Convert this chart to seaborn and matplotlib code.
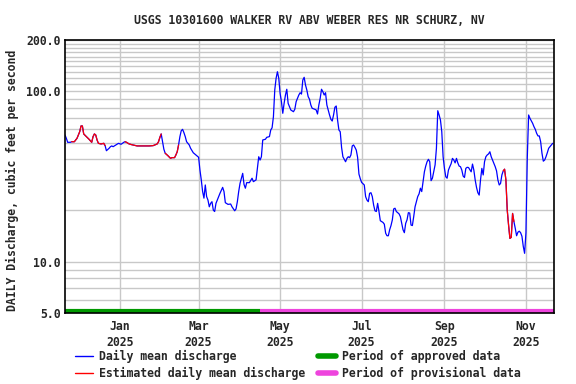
import pandas as pd
import matplotlib
matplotlib.use("Agg")
import matplotlib.pyplot as plt
import matplotlib.dates as mdates
from matplotlib.lines import Line2D
from matplotlib.ticker import FixedLocator, FixedFormatter, NullFormatter
import seaborn as sns

# Daily mean discharge (day 0 = 2024-11-21)
start = pd.Timestamp("2024-11-21")
day = [
    0, 1, 2, 3, 4, 5, 7, 9, 11, 12, 13, 14, 16, 18, 20, 21, 22, 23, 24, 25,
    27, 29, 30, 31, 33, 34, 35, 36, 38, 40, 42, 43, 44, 45,
    46, 48, 50, 54, 58, 63, 66, 69, 70, 71, 72, 73, 74, 75, 76, 77,
    79, 80, 82, 83, 84, 85, 86, 87, 88, 89, 90, 91, 93,
    94, 96, 98, 100, 101, 102, 103, 104, 105, 106,
    107, 108, 109, 110, 111, 112, 113, 115, 116, 118,
    119, 120, 122, 124, 125, 127, 128, 129, 130, 131,
    133, 134, 135, 136, 138, 140, 141, 143, 144, 145,
    146, 147, 148, 150, 151, 153, 154, 155, 156, 157,
    158, 159, 160, 161, 162, 163, 164, 165, 166, 167,
    168, 169, 171, 172, 173, 175, 176, 177, 178, 179,
    180, 181, 182,
    183, 184, 185, 187, 188, 189, 190, 191, 192, 193,
    194, 195, 196, 197, 198, 199, 200, 201, 202, 203,
    204, 205, 206, 207, 208, 209, 210, 211, 212, 213,
    214, 215, 216, 217, 218, 219, 220, 221, 222, 224,
    225, 226, 227, 228, 229, 230, 231, 232, 233, 234,
    235, 236, 238, 239, 240, 241, 242, 243, 244, 245,
    246, 247, 248, 250, 251, 252, 253, 254, 255, 256,
    257, 258, 259, 260, 261, 262, 263, 264, 265, 266,
    267, 268, 269, 270, 271, 272, 273, 274, 275, 276,
    277, 278, 279, 280, 281, 282, 283, 284, 285, 286,
    287, 288, 289, 290, 291, 292, 293, 294, 295, 296,
    297, 298, 299, 300, 301, 302, 304, 305, 306, 307,
    308, 309, 310, 311, 312, 313, 314, 315, 316, 317,
    318, 319, 320, 321, 322, 323, 324, 325, 326, 327,
    328, 329, 330, 331, 332, 333, 334, 335, 336, 337,
    338, 339, 340, 341, 342, 343, 344, 345, 346, 347,
    348, 349, 350, 351, 352, 353, 354, 355, 356, 357,
    358, 359, 360, 361, 362, 363, 364, 365,
]
cfs = [
    55.4, 53.0, 50.2, 50.2, 50.2, 50.6, 50.6, 53.0, 57.9, 62.6, 62.6, 56.2, 54.2, 52.3, 50.2, 54.2, 56.2, 55.4, 51.8, 49.5,
    49.1, 49.5, 48.0, 44.8, 46.3, 47.3, 47.8, 47.3, 48.4, 49.5, 48.9, 49.5, 50.2, 50.6,
    50.2, 49.1, 48.6, 47.8, 47.8, 47.8, 48.0, 49.1, 50.6, 53.6, 56.2, 50.6, 45.7, 43.3, 42.6, 41.9,
    40.4, 40.8, 40.8, 42.3, 44.2, 48.4, 54.2, 58.7, 59.8, 57.2, 54.2, 50.6, 48.4,
    46.3, 43.6, 42.3, 41.0, 34.5, 30.2, 25.8, 23.6, 28.2, 24.1,
    23.0, 21.0, 22.0, 22.5, 20.1, 19.7, 22.0, 24.1, 25.2, 27.3,
    25.8, 22.2, 21.7, 21.8, 21.0, 19.9, 20.4, 22.5, 25.8, 28.8,
    33.0, 28.4, 27.0, 29.1, 29.1, 30.9, 29.5, 30.2, 35.3, 41.3,
    39.5, 41.3, 51.8, 52.3, 53.7, 54.2, 59.3, 61.1, 71.0, 101.8,
    119.2, 130.3, 119.2, 97.3, 86.9, 74.3, 85.0, 95.1, 102.8, 85.0,
    81.2, 77.7, 75.9, 78.4, 86.9, 95.1, 98.1, 96.3, 116.5, 120.8,
    108.9, 101.8, 93.0,
    89.8, 83.1, 79.5, 78.4, 77.7, 73.6, 83.1, 91.0, 102.8, 99.5,
    95.1, 98.1, 83.1, 77.7, 72.6, 68.5, 66.9, 72.6, 80.6, 82.0,
    67.9, 59.3, 57.9, 46.9, 41.3, 39.9, 38.6, 40.4, 41.3, 40.8,
    42.3, 47.8, 48.4, 46.9, 45.2, 41.0, 32.7, 30.7, 29.2, 28.2,
    24.1, 23.0, 22.5, 25.2, 25.4, 24.1, 21.5, 19.9, 19.7, 22.0,
    19.7, 17.4, 17.0, 16.6, 14.7, 14.2, 14.2, 15.4, 16.3, 17.6,
    20.4, 20.6, 19.7, 19.1, 18.4, 16.8, 15.4, 14.8, 16.8, 17.6,
    19.4, 19.3, 16.4, 16.3, 18.4, 21.0, 22.5, 24.1, 25.0, 27.0,
    25.8, 29.5, 33.7, 36.4, 38.6, 39.9, 38.6, 29.9, 30.9, 33.7,
    37.0, 46.3, 76.9, 72.6, 67.9, 57.9, 41.3, 35.3, 31.5, 30.9,
    34.5, 36.1, 37.6, 40.4, 39.5, 38.0, 40.4, 38.0, 36.4, 36.1,
    34.5, 31.8, 31.2, 35.3, 35.8, 35.7, 33.7, 37.4, 34.5, 30.2,
    27.3, 25.4, 24.6, 30.2, 35.3, 32.3, 38.6, 41.3, 42.3, 42.9,
    44.2, 41.3, 39.5, 37.9, 36.1, 34.1, 30.2, 28.2, 28.8, 32.3,
    34.1, 34.9, 30.2, 20.1, 16.4, 13.7, 13.9, 19.2, 17.2, 15.7,
    14.2, 14.9, 15.1, 14.8, 14.1, 12.3, 11.2, 14.8, 40.5, 72.6,
    69.4, 67.2, 64.9, 62.0, 59.8, 56.7, 54.7, 54.7, 50.6, 43.3,
    38.9, 39.5, 41.3, 43.6, 46.3, 47.3, 48.4, 49.5,
]
# day ranges flagged as estimated (drawn red)
estimated = [(5, 30), (45, 72), (75, 85), (328, 336)]
approved_end = pd.Timestamp("2025-04-16")
end = start + pd.Timedelta(days=366)

tick_dates = pd.to_datetime(["2025-01-01", "2025-03-01", "2025-05-01",
                             "2025-07-01", "2025-09-01", "2025-11-01"])
y_major = [5, 10, 100, 200]
y_minor = [6, 7, 8, 9, 20, 30, 40, 50, 60, 70, 80, 90,
           110, 120, 130, 140, 150, 160, 170, 180, 190]

title = "USGS 10301600 WALKER RV ABV WEBER RES NR SCHURZ, NV"

df = pd.DataFrame({"day": day, "cfs": cfs})
df["date"] = start + pd.to_timedelta(df["day"], unit="D")

sns.set_style("white")
plt.rcParams["font.family"] = ["DejaVu Sans Mono"]
plt.rcParams["font.weight"] = "bold"
FS = 8.3
GREEN = "#009900"
MAGENTA = "#ee44dd"

fig = plt.figure(figsize=(5.76, 3.84), dpi=100)
ax = fig.add_axes([65 / 576, 1 - 313 / 384, 489 / 576, 273 / 384])

sns.lineplot(data=df, x="date", y="cfs", color="#0000ff", lw=0.9, ax=ax)
for a, b in estimated:
    seg = df[(df["day"] >= a) & (df["day"] <= b)]
    sns.lineplot(data=seg, x="date", y="cfs", color="#ff0000", lw=0.9, ax=ax)

ax.set_yscale("log")
ax.set_ylim(5, 200)
ax.set_xlim(start, end)

ax.yaxis.set_major_locator(FixedLocator(y_major))
ax.yaxis.set_major_formatter(FixedFormatter([f"{v:.1f}" for v in y_major]))
ax.yaxis.set_minor_locator(FixedLocator(y_minor))
ax.yaxis.set_minor_formatter(NullFormatter())
ax.xaxis.set_major_locator(FixedLocator(mdates.date2num(tick_dates)))
ax.xaxis.set_major_formatter(FixedFormatter([f"{d:%b}\n{d:%Y}" for d in tick_dates]))
ax.xaxis.set_minor_locator(FixedLocator([]))

ax.grid(True, which="both", axis="y", color="#c8c8c8", lw=1)
ax.grid(True, which="major", axis="x", color="#c8c8c8", lw=1)
ax.set_axisbelow(True)
ax.tick_params(axis="both", which="both", length=0, labelsize=FS)
ax.tick_params(axis="x", pad=5)
ax.tick_params(axis="y", pad=3)
for lbl in ax.get_xticklabels():
    lbl.set_linespacing(1.3)
for s in ax.spines.values():
    s.set_color("black")
    s.set_linewidth(1.2)
ax.set_xlabel("")
ax.set_ylabel("")

# approval status bar along the bottom
bar_y = 0.008
ax.plot(mdates.date2num([start, approved_end]), [bar_y, bar_y], color=GREEN, lw=3,
        solid_capstyle="butt", transform=ax.get_xaxis_transform(), clip_on=False)
ax.plot(mdates.date2num([approved_end, end]), [bar_y, bar_y], color=MAGENTA, lw=3,
        solid_capstyle="butt", transform=ax.get_xaxis_transform(), clip_on=False)

fig.text(309.5 / 576, 1 - 20 / 384, title, ha="center", va="center", fontsize=FS)
fig.text(12 / 576, 1 - 180 / 384, "DAILY Discharge, cubic feet per second",
         rotation=90, ha="center", va="center", fontsize=FS)

handles = [Line2D([], [], color="#0000ff", lw=1),
           Line2D([], [], color="#ff0000", lw=1),
           Line2D([], [], color=GREEN, lw=4),
           Line2D([], [], color=MAGENTA, lw=4)]
labels = ["Daily mean discharge", "Estimated daily mean discharge",
          "Period of approved data", "Period of provisional data"]
fig.legend(handles, labels, ncol=2, loc="upper left", bbox_to_anchor=(75 / 576, 1 - 350 / 384),
           frameon=False, fontsize=FS, handlelength=1.6, handletextpad=0.5,
           columnspacing=1.06, labelspacing=0.3, borderaxespad=0, borderpad=0)

fig.savefig("out.png", dpi=100)
